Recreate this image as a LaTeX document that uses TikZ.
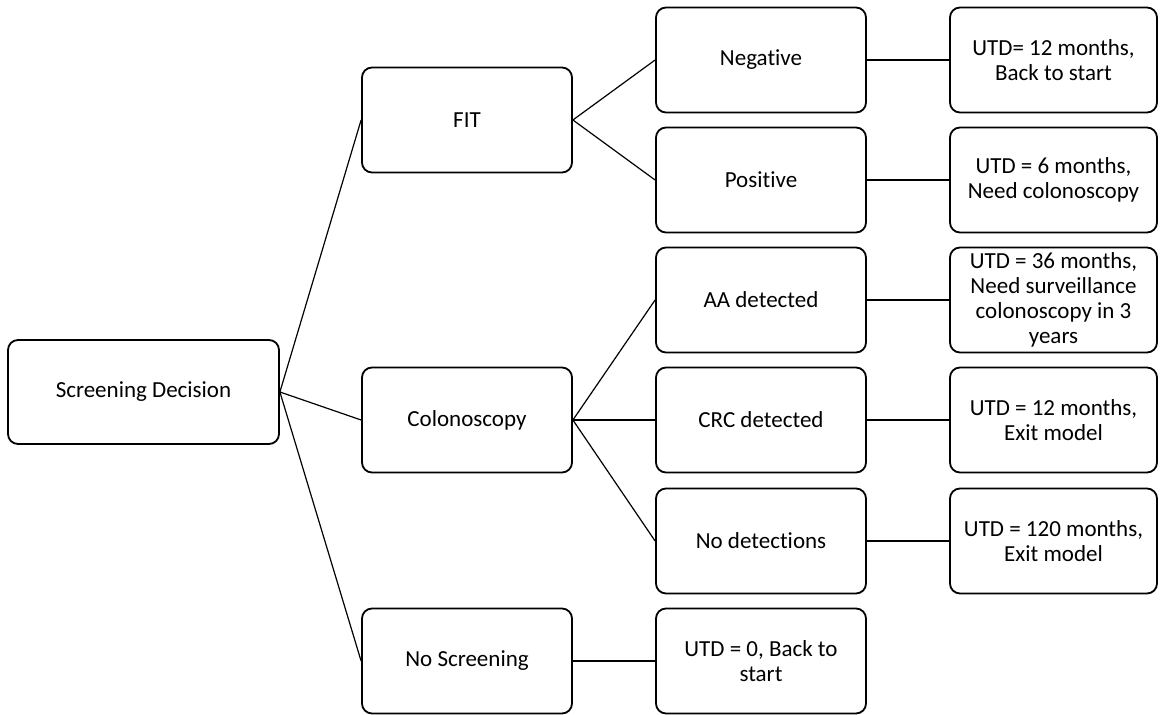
\documentclass[tikz,border=0pt]{standalone}
\usepackage{fontspec}
\setmainfont{Carlito}[Ligatures=NoCommon]
\begin{document}
\begin{tikzpicture}[x=0.5pt, y=-0.5pt,
        box/.style={draw, rounded corners=5pt, line width=0.9pt, minimum width=105pt, minimum height=52.5pt, align=center, inner sep=1pt, font=\fontsize{11.5}{12.5}\selectfont},
        link/.style={line width=0.6pt}]
        \useasboundingbox (0,0) rectangle (1163,715);
        \def\colA{143.5}
        \def\colB{467}
        \def\colC{761}
        \def\colD{1053.5}

        % Root
        \node[box, minimum width=135.5pt, minimum height=52pt] (screen) at (\colA,392) {Screening Decision};

        % First choice
        \node[box] (fit) at (\colB,120) {FIT};
        \node[box] (colo) at (\colB,420) {Colonoscopy};
        \node[box] (none) at (\colB,661) {No Screening};
        \draw[link] (screen.east) -- (fit.west);
        \draw[link] (screen.east) -- (colo.west);
        \draw[link] (screen.east) -- (none.west);

        % Results
        \node[box] (neg) at (\colC,60) {Negative};
        \node[box] (pos) at (\colC,180) {Positive};
        \node[box] (aa) at (\colC,300) {AA detected};
        \node[box] (crc) at (\colC,420) {CRC detected};
        \node[box] (nodet) at (\colC,541) {No detections};
        \node[box] (utdzero) at (\colC,661) {UTD = 0, Back to\\start};
        \draw[link] (fit.east) -- (neg.west);
        \draw[link] (fit.east) -- (pos.west);
        \draw[link] (colo.east) -- (aa.west);
        \draw[link] (colo.east) -- (crc.west);
        \draw[link] (colo.east) -- (nodet.west);
        \draw[link] (none.east) -- (utdzero.west);

        % Outcomes
        \node[box, minimum width=103.5pt] (utdneg) at (\colD,60) {UTD= 12 months,\\Back to start};
        \node[box, minimum width=103.5pt] (utdpos) at (\colD,180) {UTD = 6 months,\\Need colonoscopy};
        \node[box, minimum width=103.5pt] (utdaa) at (\colD,300) {UTD = 36 months,\\Need surveillance\\colonoscopy in 3\\years};
        \node[box, minimum width=103.5pt] (utdcrc) at (\colD,420) {UTD = 12 months,\\Exit model};
        \node[box, minimum width=103.5pt] (utdnodet) at (\colD,541) {UTD = 120 months,\\Exit model};
        \draw[link] (neg) -- (utdneg);
        \draw[link] (pos) -- (utdpos);
        \draw[link] (aa) -- (utdaa);
        \draw[link] (crc) -- (utdcrc);
        \draw[link] (nodet) -- (utdnodet);
    \end{tikzpicture}
\end{document}
